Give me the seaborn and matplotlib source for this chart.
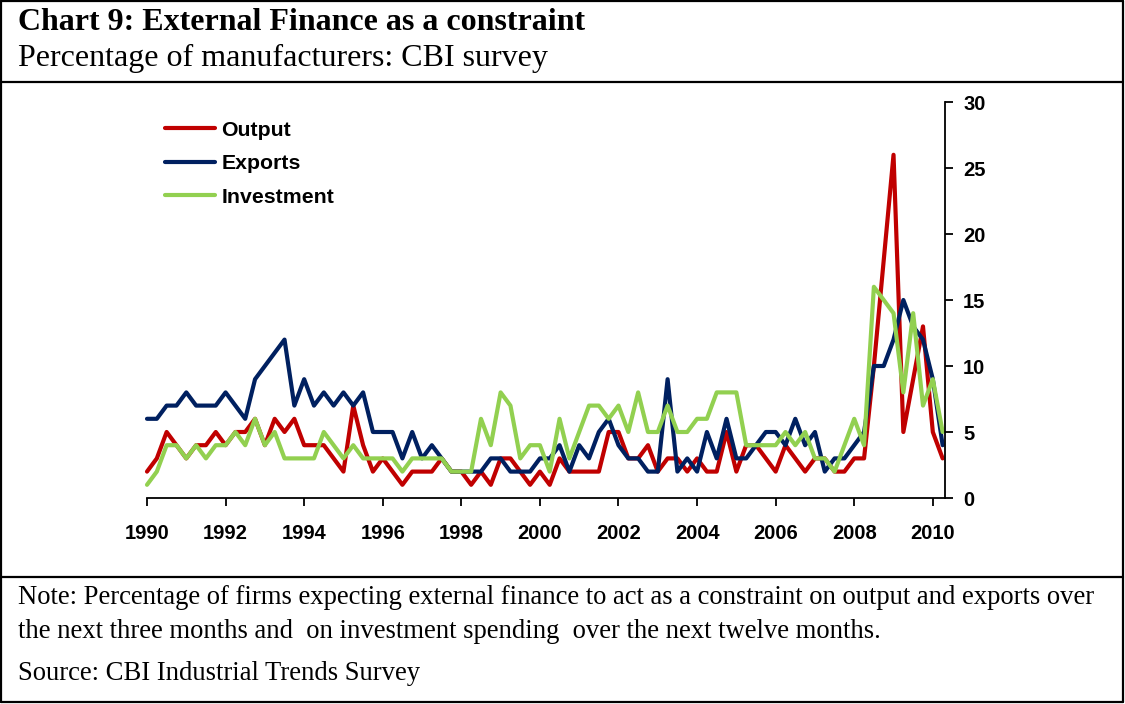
import matplotlib
matplotlib.use("Agg")
import matplotlib.pyplot as plt
import seaborn as sns
import numpy as np
import pandas as pd
from matplotlib.lines import Line2D

# ---------------- data (quarterly, 1990 Q1 .. 2010 Q2) ----------------
start_year = 1990.0
series_names = ["Output", "Exports", "Investment"]
output = [2, 3, 5, 4, 3, 4, 4, 5, 4, 5, 5, 6, 4, 6, 5, 6,
          4, 4, 4, 3, 2, 7, 4, 2, 3, 2, 1, 2, 2, 2, 3, 2,
          2, 1, 2, 1, 3, 3, 2, 1, 2, 1, 3, 2, 2, 2, 2, 5,
          5, 3, 3, 4, 2, 3, 3, 2, 3, 2, 2, 5, 2, 4, 4, 3,
          2, 4, 3, 2, 3, 3, 2, 2, 3, 3, 10, 18, 26, 5, 9, 13,
          5, 3]
exports = [6, 6, 7, 7, 8, 7, 7, 7, 8, 7, 6, 9, 10, 11, 12, 7,
           9, 7, 8, 7, 8, 7, 8, 5, 5, 5, 3, 5, 3, 4, 3, 2,
           2, 2, 2, 3, 3, 2, 2, 2, 3, 3, 4, 2, 4, 3, 5, 6,
           4, 3, 3, 2, 2, 9, 2, 3, 2, 5, 3, 6, 3, 3, 4, 5,
           5, 4, 6, 4, 5, 2, 3, 3, 4, 5, 10, 10, 12, 15, 13, 12,
           9, 4]
investment = [1, 2, 4, 4, 3, 4, 3, 4, 4, 5, 4, 6, 4, 5, 3, 3,
              3, 3, 5, 4, 3, 4, 3, 3, 3, 3, 2, 3, 3, 3, 3, 2,
              2, 2, 6, 4, 8, 7, 3, 4, 4, 2, 6, 3, 5, 7, 7, 6,
              7, 5, 8, 5, 5, 7, 5, 5, 6, 6, 8, 8, 8, 4, 4, 4,
              4, 5, 4, 5, 3, 3, 2, 4, 6, 4, 16, 15, 14, 8, 14, 7,
              9, 5]
colors = ["#C00000", "#002060", "#92D050"]
x_ticks = list(range(1990, 2011, 2))
y_ticks = [0, 5, 10, 15, 20, 25, 30]

n = len(output)
dates = [start_year + 0.25 * i for i in range(n)]
df = pd.DataFrame({"date": dates * 3,
                   "value": output + exports + investment,
                   "series": sum([[s] * n for s in series_names], [])})

sns.set_theme(style="white")
plt.rcParams['font.family'] = ['Liberation Sans', 'DejaVu Sans']
plt.rcParams['text.color'] = 'black'

W, H = 1125, 704
fig = plt.figure(figsize=(W / 100, H / 100), dpi=100)
ax = fig.add_axes([147 / W, 1 - 498 / H, (945 - 147) / W, (498 - 102) / H])

sns.lineplot(data=df, x="date", y="value", hue="series",
             hue_order=series_names, palette=colors, linewidth=3.0,
             ax=ax, legend=False, clip_on=False)

ax.set_xlim(1990.0, 2010.31)
ax.set_ylim(0, 30)
ax.set_xticks(x_ticks)
ax.set_xticklabels([str(t) for t in x_ticks], fontweight="bold", fontsize=14.5)
ax.set_yticks(y_ticks)
ax.set_yticklabels([str(t) for t in y_ticks], fontweight="bold", fontsize=14.5)
ax.yaxis.tick_right()
ax.set_xlabel("")
ax.set_ylabel("")
for side in ["left", "top"]:
    ax.spines[side].set_visible(False)
for side in ["right", "bottom"]:
    ax.spines[side].set_visible(True)
    ax.spines[side].set_color("black")
    ax.spines[side].set_linewidth(1.3)
ax.tick_params(axis="x", direction="out", length=6, width=1.3, color="black",
               pad=13, labelcolor="black", bottom=True)
ax.tick_params(axis="y", direction="out", length=6, width=1.3, color="black",
               pad=7, labelcolor="black", right=True, left=False)
ax.grid(False)

handles = [Line2D([0], [0], color=c, lw=3.0) for c in colors]
leg = ax.legend(handles, series_names, loc="upper left",
                bbox_to_anchor=(18 / 798, 0.953), frameon=False,
                borderaxespad=0, borderpad=0,
                prop={"weight": "bold", "size": 15.3},
                handlelength=2.35, handletextpad=0.3, labelspacing=0.68)
for t in leg.get_texts():
    t.set_color("black")

# ---------------- header / footer texts ----------------
fig.text(18 / W, 1 - 22 / H, "Chart 9: External Finance as a constraint",
         ha="left", va="center", family="Liberation Serif", weight="bold",
         size=23, color="black")
fig.text(18 / W, 1 - 58 / H, "Percentage of manufacturers: CBI survey",
         ha="left", va="center", family="Liberation Serif",
         size=23, color="black")
fig.text(18 / W, 1 - 598 / H,
         "Note: Percentage of firms expecting external finance to act as a constraint on output and exports over",
         ha="left", va="center", family="Liberation Serif", size=19.2, color="black")
fig.text(18 / W, 1 - 631 / H,
         "the next three months and  on investment spending  over the next twelve months.",
         ha="left", va="center", family="Liberation Serif", size=19.2, color="black")
fig.text(18 / W, 1 - 673 / H, "Source: CBI Industrial Trends Survey",
         ha="left", va="center", family="Liberation Serif", size=19.2, color="black")

# ---------------- frame lines ----------------
lw = 1.6
for (x0, y0, x1, y1) in [(1, 1, 1123, 1), (1, 702, 1123, 702), (1, 1, 1, 702),
                         (1123, 1, 1123, 702), (1, 82, 1123, 82), (1, 577, 1123, 577)]:
    fig.add_artist(Line2D([x0 / W, x1 / W], [1 - y0 / H, 1 - y1 / H],
                          transform=fig.transFigure, color="black", lw=lw))

fig.savefig("out.png", dpi=100)
